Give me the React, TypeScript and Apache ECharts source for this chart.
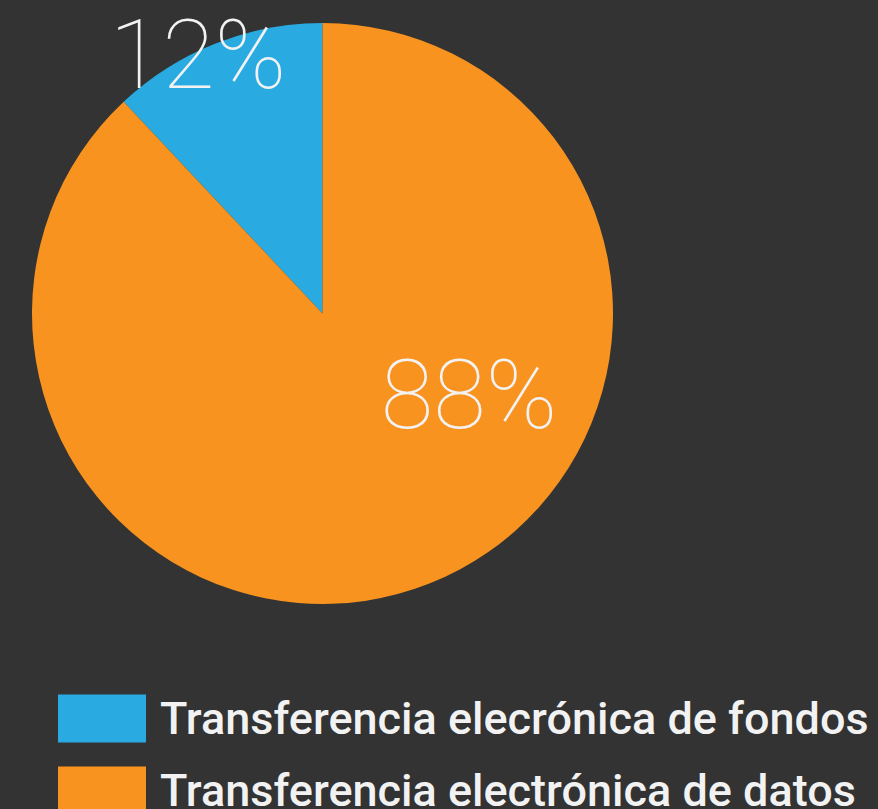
import React, { useEffect, useRef } from "react";
import * as echarts from "echarts";

const categories = [
  "Transferencia elecrónica de fondos",
  "Transferencia electrónica de datos",
];
const values = [12, 88];
const colors = ["#29abe2", "#f7931e"];
const labelOffsets = [
  [-70, -121],
  [92, -56],
];

export default function App() {
  const ref = useRef<HTMLDivElement>(null);
  useEffect(() => {
    document.body.style.margin = "0";
    const chart = echarts.init(ref.current!, undefined, { renderer: "svg" });
    const legendBase = {
      orient: "vertical",
      left: 58,
      padding: 0,
      itemWidth: 88,
      itemHeight: 48,
      icon: "rect",
      textStyle: {
        color: "#f2f2f2",
        fontFamily: "Roboto",
        fontWeight: 500,
        fontSize: 45,
        lineHeight: 36,
        padding: [0, 0, 15, 9],
      },
    };
    chart.setOption({
      animation: false,
      backgroundColor: "#333333",
      legend: [
        { ...legendBase, top: 693, data: [categories[0]] },
        { ...legendBase, top: 765, data: [categories[1]] },
      ],
      series: [
        {
          type: "pie",
          center: [322.5, 313.5],
          radius: [0, 290.5],
          startAngle: 90,
          clockwise: false,
          label: {
            show: true,
            position: "inside",
            formatter: "{c}%",
            color: "#f2f2f2",
            fontFamily: "Roboto",
            fontWeight: 100,
            fontSize: 96,
          },
          labelLine: { show: false },
          emphasis: { disabled: true },
          data: categories.map((name, i) => ({
            name,
            value: values[i],
            itemStyle: { color: colors[i] },
            label: { offset: labelOffsets[i] },
          })),
        },
      ],
    });
    return () => chart.dispose();
  }, []);
  return <div ref={ref} style={{ width: 878, height: 809 }} />;
}
